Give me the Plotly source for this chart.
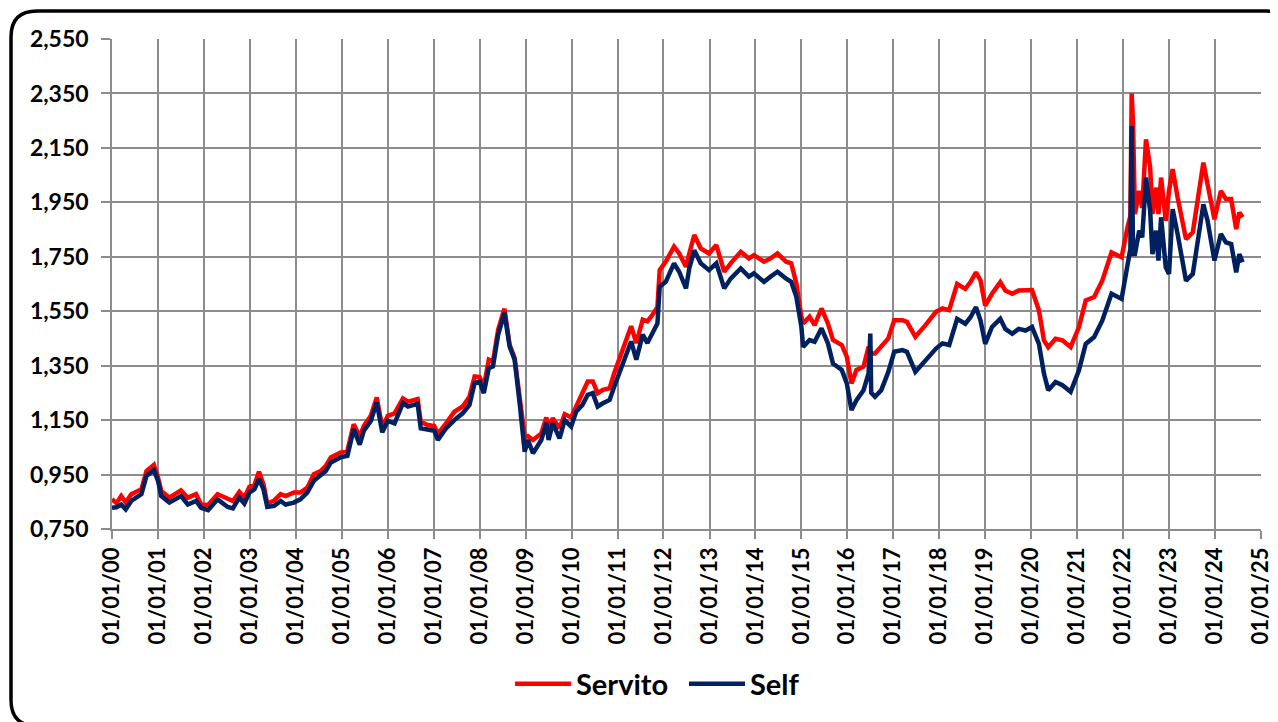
import plotly.graph_objects as go

# dates of the readings (shared by both series)
dates = [
    "2000-01-01", "2000-02-06", "2000-03-14", "2000-04-19", "2000-06-02", "2000-07-27", "2000-08-22",
    "2000-10-01", "2000-11-29",
    "2001-01-01", "2001-01-26", "2001-04-01", "2001-07-02", "2001-08-26", "2001-10-30", "2001-12-09",
    "2002-02-03", "2002-04-19", "2002-07-09", "2002-08-19", "2002-10-09", "2002-11-18", "2002-12-28",
    "2003-02-06", "2003-03-14", "2003-04-19", "2003-05-19", "2003-07-13", "2003-09-02", "2003-10-12", "2003-12-16",
    "2004-02-06", "2004-04-01", "2004-05-23", "2004-07-16", "2004-08-26", "2004-10-05", "2004-12-20",
    "2005-02-14", "2005-04-05", "2005-05-23", "2005-06-25", "2005-08-19", "2005-10-05", "2005-11-18",
    "2006-01-01", "2006-02-24", "2006-05-01", "2006-06-10", "2006-08-26", "2006-09-20", "2006-11-14",
    "2007-01-05", "2007-02-03", "2007-04-09", "2007-06-14", "2007-08-19", "2007-10-12", "2007-11-22",
    "2008-01-01", "2008-02-03", "2008-03-14", "2008-04-16", "2008-05-27", "2008-07-16", "2008-08-26",
    "2008-10-05", "2008-11-14", "2008-12-24",
    "2009-01-19", "2009-02-28", "2009-05-05", "2009-06-14", "2009-07-02", "2009-08-04", "2009-09-27",
    "2009-11-07", "2009-12-28",
    "2010-02-06", "2010-03-28", "2010-05-09", "2010-06-18", "2010-07-27", "2010-09-06", "2010-10-30",
    "2010-12-06",
    "2011-01-15", "2011-02-24", "2011-04-19", "2011-05-30", "2011-07-20", "2011-08-26", "2011-10-05",
    "2011-11-14", "2011-12-02",
    "2012-01-19", "2012-03-25", "2012-05-05", "2012-06-28", "2012-07-24", "2012-09-02", "2012-10-23",
    "2012-12-28",
    "2013-02-24", "2013-04-28", "2013-06-18", "2013-09-06", "2013-11-10", "2013-12-20",
    "2014-03-10", "2014-05-01", "2014-06-25", "2014-09-02", "2014-10-12", "2014-11-22",
    "2015-01-01", "2015-01-15", "2015-03-07", "2015-04-16", "2015-06-10", "2015-07-31", "2015-09-09",
    "2015-11-18", "2015-12-28",
    "2016-02-03", "2016-03-14", "2016-05-09", "2016-06-18", "2016-07-02", "2016-07-09", "2016-08-08",
    "2016-09-27", "2016-11-22",
    "2017-01-08", "2017-03-14", "2017-04-19", "2017-06-25", "2017-09-13", "2017-12-06",
    "2018-01-26", "2018-03-21", "2018-05-23", "2018-07-27", "2018-09-06", "2018-10-20", "2018-11-25",
    "2019-01-01", "2019-02-24", "2019-05-01", "2019-06-10", "2019-08-04", "2019-09-24", "2019-11-18",
    "2020-01-08", "2020-03-03", "2020-04-12", "2020-05-16", "2020-07-13", "2020-09-06", "2020-11-10",
    "2021-01-15", "2021-03-10", "2021-05-16", "2021-07-20", "2021-10-01", "2021-12-20",
    "2022-02-06", "2022-02-28", "2022-03-10", "2022-03-21", "2022-04-05", "2022-05-09", "2022-06-02",
    "2022-07-02", "2022-08-04", "2022-08-22", "2022-09-20", "2022-10-09", "2022-10-30", "2022-12-06",
    "2023-01-01", "2023-01-30", "2023-03-10", "2023-05-16", "2023-07-09", "2023-08-29", "2023-10-01",
    "2023-11-03", "2023-12-28",
    "2024-02-17", "2024-03-28", "2024-05-09", "2024-06-18", "2024-07-13", "2024-08-08",
]

servito = [
    0.859, 0.845, 0.871, 0.847, 0.878, 0.890, 0.896, 0.963, 0.986,
    0.939, 0.890, 0.865, 0.892, 0.865, 0.878, 0.840,
    0.838, 0.878, 0.859, 0.853, 0.886, 0.865, 0.905,
    0.912, 0.960, 0.914, 0.843, 0.855, 0.878, 0.871, 0.884,
    0.884, 0.902, 0.951, 0.963, 0.982, 1.013, 1.031,
    1.037, 1.135, 1.090, 1.129, 1.166, 1.233, 1.123,
    1.166, 1.175, 1.230, 1.218, 1.227, 1.144, 1.132,
    1.128, 1.099, 1.138, 1.181, 1.200, 1.236, 1.310,
    1.308, 1.273, 1.372, 1.366, 1.482, 1.559, 1.427, 1.378, 1.224, 1.089,
    1.091, 1.077, 1.101, 1.160, 1.120, 1.157, 1.120, 1.172, 1.160,
    1.200, 1.249, 1.292, 1.292, 1.249, 1.261, 1.267, 1.323,
    1.378, 1.421, 1.495, 1.433, 1.519, 1.513, 1.536, 1.566, 1.701,
    1.732, 1.787, 1.762, 1.713, 1.762, 1.830, 1.781, 1.762,
    1.793, 1.695, 1.726, 1.768, 1.744, 1.756,
    1.732, 1.744, 1.762, 1.732, 1.726, 1.652,
    1.530, 1.505, 1.530, 1.499, 1.560, 1.505, 1.444, 1.426, 1.383,
    1.285, 1.334, 1.346, 1.419, 1.400, 1.395, 1.395, 1.419, 1.450,
    1.517, 1.517, 1.511, 1.456, 1.499, 1.548,
    1.560, 1.554, 1.650, 1.632, 1.657, 1.693, 1.663,
    1.571, 1.614, 1.657, 1.626, 1.614, 1.626, 1.626,
    1.628, 1.553, 1.443, 1.418, 1.449, 1.443, 1.418,
    1.492, 1.590, 1.602, 1.663, 1.766, 1.748,
    1.860, 1.900, 2.350, 2.240, 1.907, 1.992, 1.930, 2.181, 2.078, 1.907, 2.004, 1.907, 2.041, 1.882,
    1.992, 2.072, 1.968, 1.815, 1.840, 2.004, 2.096, 2.017, 1.888,
    1.992, 1.962, 1.962, 1.852, 1.913, 1.895,
]

self_ = [
    0.828, 0.830, 0.840, 0.822, 0.853, 0.871, 0.878, 0.945, 0.966,
    0.927, 0.871, 0.847, 0.871, 0.840, 0.853, 0.828,
    0.819, 0.859, 0.831, 0.826, 0.865, 0.843, 0.884,
    0.896, 0.933, 0.896, 0.831, 0.835, 0.853, 0.840, 0.847,
    0.859, 0.884, 0.927, 0.945, 0.963, 0.994, 1.013,
    1.019, 1.117, 1.060, 1.111, 1.147, 1.215, 1.105,
    1.147, 1.138, 1.212, 1.200, 1.210, 1.120, 1.114,
    1.111, 1.077, 1.120, 1.150, 1.175, 1.206, 1.286,
    1.292, 1.249, 1.341, 1.347, 1.464, 1.544, 1.421, 1.372, 1.212, 1.034,
    1.077, 1.028, 1.077, 1.140, 1.077, 1.138, 1.083, 1.150, 1.126,
    1.181, 1.206, 1.243, 1.249, 1.200, 1.212, 1.224, 1.273,
    1.323, 1.372, 1.439, 1.372, 1.464, 1.433, 1.468, 1.505, 1.640,
    1.658, 1.726, 1.695, 1.634, 1.707, 1.774, 1.726, 1.701,
    1.726, 1.634, 1.670, 1.707, 1.677, 1.689,
    1.658, 1.677, 1.695, 1.670, 1.658, 1.603,
    1.493, 1.419, 1.444, 1.438, 1.487, 1.432, 1.358, 1.334, 1.285,
    1.187, 1.223, 1.260, 1.322, 1.468, 1.250, 1.236, 1.260, 1.327,
    1.401, 1.407, 1.401, 1.327, 1.371, 1.413,
    1.432, 1.426, 1.522, 1.504, 1.528, 1.565, 1.516,
    1.430, 1.492, 1.522, 1.485, 1.467, 1.485, 1.479,
    1.492, 1.430, 1.321, 1.260, 1.290, 1.278, 1.254,
    1.333, 1.430, 1.455, 1.516, 1.614, 1.595,
    1.710, 1.780, 2.230, 1.760, 1.760, 1.846, 1.821, 2.041, 1.919, 1.760, 1.846, 1.736, 1.895, 1.711,
    1.687, 1.925, 1.834, 1.662, 1.687, 1.858, 1.943, 1.883, 1.736,
    1.834, 1.803, 1.797, 1.693, 1.760, 1.730,
]

GRID = "#8c8c8c"
FONT = "Lato"

# the page puts the figure 8px in from the top-left corner
OFF = 8
W, H = 1278 - OFF, 722 - OFF

# plot area in screen pixels: left 112, right 1261, top 39, bottom 529
L, R, T, B = 112 - OFF, 1261 - OFF, 39 - OFF, 529 - OFF


def px(x, y):
    # screen pixel -> paper coordinates
    x, y = x - OFF, y - OFF
    return (x - L) / (R - L), (B - y) / (B - T)


fig = go.Figure()

fig.add_trace(go.Scatter(
    x=dates, y=servito, name="Servito", mode="lines",
    line=dict(color="#ff0000", width=4.5)
))

fig.add_trace(go.Scatter(
    x=dates, y=self_, name="Self", mode="lines",
    line=dict(color="#002060", width=4.5)
))

# rounded outer border (partly out of the frame)
x0, y0, x1, y1, r = 11, 11, 1292, 726, 26
pts = [
    ("M", px(x0, y0 + r)),
    ("Q", px(x0, y0), px(x0 + r, y0)),
    ("L", px(x1 - r, y0)),
    ("Q", px(x1, y0), px(x1, y0 + r)),
    ("L", px(x1, y1 - r)),
    ("Q", px(x1, y1), px(x1 - r, y1)),
    ("L", px(x0 + r, y1)),
    ("Q", px(x0, y1), px(x0, y1 - r)),
]
path = ""
for p in pts:
    path += p[0] + " " + " ".join(f"{a:.5f},{b:.5f}" for a, b in p[1:]) + " "
path += "Z"

fig.add_shape(
    type="path", path=path, xref="paper", yref="paper",
    line=dict(color="black", width=3.5)
)

fig.update_layout(
    width=W,
    height=H,
    margin=dict(l=L, r=W - R, t=T, b=H - B, autoexpand=False),
    paper_bgcolor="white",
    plot_bgcolor="white",
    separators=",.",
    font=dict(family=FONT, color="black", size=20, weight="bold"),
    showlegend=True,
    legend=dict(
        orientation="h",
        x=px(510, 0)[0],
        xanchor="left",
        y=px(0, 684)[1],
        yanchor="middle",
        font=dict(size=29, family=FONT, weight="bold"),
        itemwidth=56,
        entrywidth=103,
        traceorder="normal",
    ),
    xaxis=dict(
        type="date",
        range=["2000-01-01", "2025-01-01"],
        tick0="2000-01-01",
        dtick="M12",
        tickformat="%d/%m/%y",
        tickangle=-90,
        ticklabeloverflow="allow",
        automargin=False,
        showgrid=True,
        gridcolor=GRID,
        gridwidth=1.5,
        showline=True,
        linecolor=GRID,
        linewidth=1.5,
        ticks="outside",
        ticklen=8,
        tickcolor=GRID,
        tickwidth=1.5,
        tickfont=dict(size=22, family=FONT, weight="bold"),
        zeroline=False,
    ),
    yaxis=dict(
        range=[0.75, 2.55],
        tick0=0.75,
        dtick=0.2,
        tickformat=".3f",
        automargin=False,
        showgrid=True,
        gridcolor=GRID,
        gridwidth=1.5,
        showline=True,
        linecolor=GRID,
        linewidth=1.5,
        ticks="outside",
        ticklen=9,
        tickcolor=GRID,
        tickwidth=1.5,
        ticklabelstandoff=8,
        tickfont=dict(size=23, family=FONT, weight="bold"),
        zeroline=False,
    ),
)

fig.write_html("out.html")
